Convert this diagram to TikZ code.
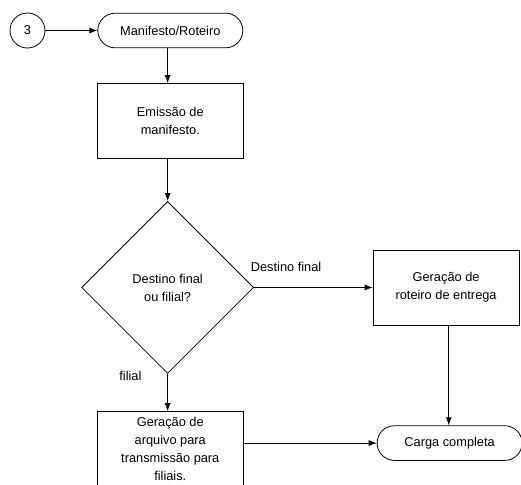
\documentclass[tikz,border=0pt]{standalone}
\usepackage{fontspec}
\setmainfont{Liberation Sans}
\usetikzlibrary{shapes.geometric,shapes.misc,positioning,arrows.meta}
\tikzset{
  conn/.style={ % off-page connector
    draw, circle, minimum size=26.25pt, inner sep=0pt
  },
  term/.style={ % terminal with round ends
    draw, rounded rectangle, minimum width=108.75pt,
    minimum height=26pt, inner sep=0pt
  },
  proc/.style={ % process box
    draw, rectangle, minimum width=109.5pt, minimum height=56.25pt,
    inner sep=0pt, align=center
  },
  decision/.style={ % decision diamond
    draw, diamond, aspect=1, minimum size=129pt,
    inner sep=0pt, align=center
  },
  flow/.style={-{Latex[length=6pt,width=4.5pt]}}
}

\begin{document}
\begin{tikzpicture}[
    x=0.75pt, y=-0.75pt, line width=0.6pt,
    font=\fontsize{9.6}{13.5}\selectfont
  ]
  \useasboundingbox (0,0) rectangle (521,485);

  \node[conn] (c3) at (27.5,30.5) {3};
  \node[term] (manif) [right=39pt of c3] {Manifesto/Roteiro};
  \node[proc] (emissao) [below=26.25pt of manif] {Emissão de\\manifesto.};
  \node[decision] (dec) [below=31.5pt of emissao, xshift=-2pt]
    {Destino final\\ou filial?};
  \node[proc] (roteiro) [right=89pt of dec] {Geração de\\roteiro de entrega};
  \node[proc] (arquivo) [below=28pt of dec, xshift=2pt]
    {Geração de\\arquivo para\\transmissão para\\filiais.};
  \node[term] (carga) [right=99.75pt of arquivo, yshift=4.5pt] {Carga completa};

  \draw[flow] (c3) -- (manif);
  \draw[flow] (manif.south -| dec) -- (emissao.north -| dec);
  \draw[flow] (emissao.south -| dec) -- (dec);
  \draw[flow] (dec) -- node[pos=0.27, above=8pt] {Destino final} (roteiro);
  \draw[flow] (dec) -- node[pos=0.05, left=16pt] {filial} (dec |- arquivo.north);
  \draw[flow] ([xshift=2pt]roteiro.south) -- ([xshift=2pt]roteiro.south |- carga.north);
  \draw[flow] (arquivo.east |- carga) -- (carga);
\end{tikzpicture}
\end{document}
